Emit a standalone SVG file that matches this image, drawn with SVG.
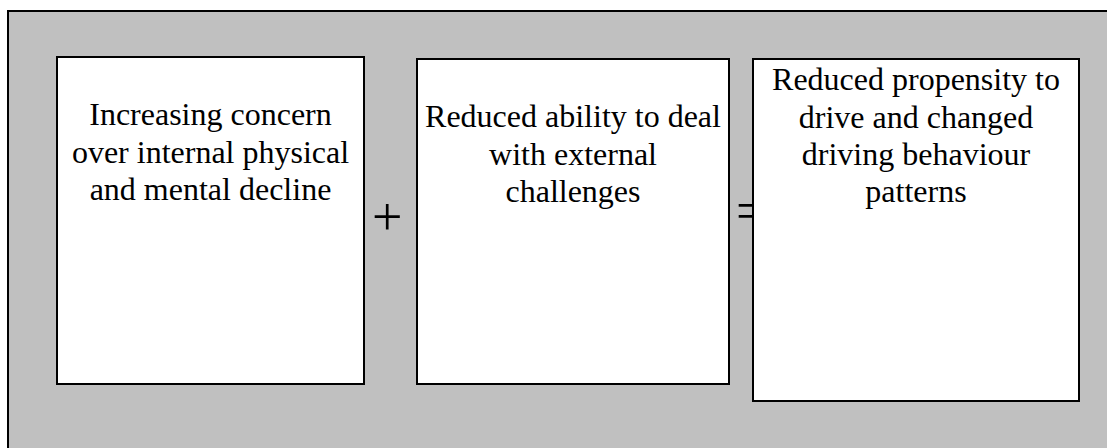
<svg xmlns="http://www.w3.org/2000/svg" width="1107" height="448" viewBox="0 0 1107 448">
<style>
.box{fill:#ffffff;stroke:#000000;stroke-width:2}
.t{font-family:"Liberation Serif","Times New Roman",serif;font-size:32px;fill:#000;text-anchor:middle}
.op{font-family:"Liberation Serif","Times New Roman",serif;font-size:54px;fill:#000}
</style>
<rect x="8" y="11" width="1110" height="450" fill="#c0c0c0" stroke="#000" stroke-width="2"/>
<g id="connectors">
<text class="op" x="372" y="235">+</text>
<text class="op" x="736" y="229">=</text>
</g>
<g id="node1">
<rect class="box" x="57" y="57" width="307" height="327"/>
<text class="t" x="210.5" y="125">Increasing concern</text>
<text class="t" x="210.5" y="163">over internal physical</text>
<text class="t" x="210.5" y="200">and mental decline</text>
</g>
<g id="node2">
<rect class="box" x="417" y="59" width="312" height="325"/>
<text class="t" x="573" y="127">Reduced ability to deal</text>
<text class="t" x="573" y="165">with external</text>
<text class="t" x="573" y="202">challenges</text>
</g>
<g id="node3">
<rect class="box" x="753" y="59" width="326" height="342"/>
<text class="t" x="916" y="90">Reduced propensity to</text>
<text class="t" x="916" y="128">drive and changed</text>
<text class="t" x="916" y="165">driving behaviour</text>
<text class="t" x="916" y="202">patterns</text>
</g>
</svg>
